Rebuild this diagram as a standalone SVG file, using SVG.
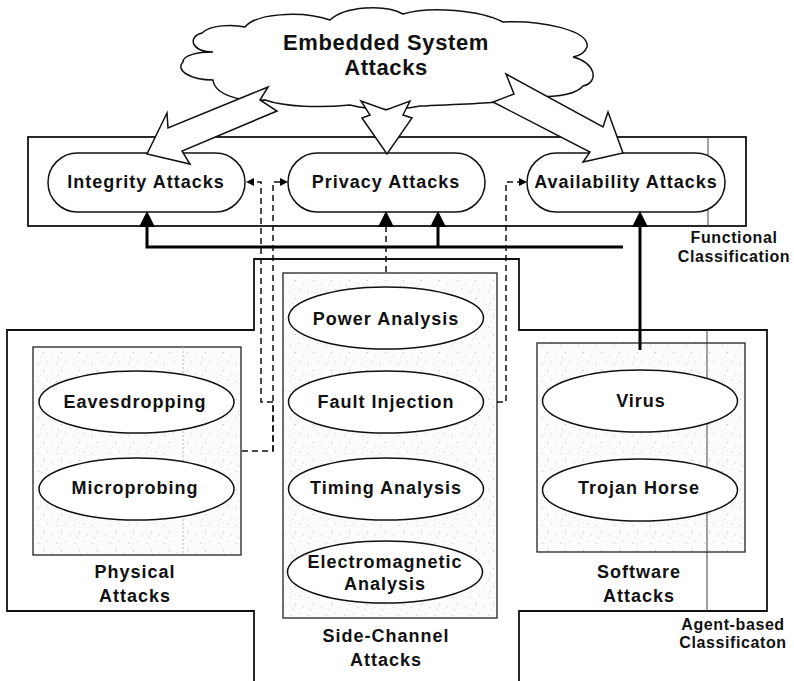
<svg xmlns="http://www.w3.org/2000/svg" width="794" height="681" viewBox="0 0 794 681">
  <defs>
    <style>
      .frame { fill: none; stroke: #111; stroke-width: 1.8; }
      .hair { fill: none; stroke: #444; stroke-width: 1; }
      .faint { fill: none; stroke: #bbb; stroke-width: 1; stroke-dasharray: 2 2; }
      .pill, .ell, .cloud, .hollow { fill: #fff; stroke: #111; stroke-width: 1.5; stroke-linejoin: miter; }
      .inner { fill: url(#stipple); stroke: #222; stroke-width: 1.3; }
      .bus { fill: none; stroke: #000; stroke-width: 3; }
      .dash { fill: none; stroke: #111; stroke-width: 1.5; stroke-dasharray: 6 4; }
      text { font-family: "Liberation Sans", Arial, sans-serif; font-weight: bold; font-size: 18px; letter-spacing: 1px; text-anchor: middle; fill: #111; }
      .title { font-size: 22px; letter-spacing: 0.6px; }
      .note { font-size: 16px; letter-spacing: 0.6px; }
    </style>
    <pattern id="stipple" width="18" height="18" patternUnits="userSpaceOnUse">
      <rect width="18" height="18" fill="#fcfcfc"/>
      <rect x="2" y="3" width="1" height="1" fill="#c4c4c4"/>
      <rect x="11" y="1" width="1" height="1" fill="#d0d0d0"/>
      <rect x="7" y="10" width="1" height="1" fill="#bcbcbc"/>
      <rect x="15" y="13" width="1" height="1" fill="#d4d4d4"/>
      <rect x="4" y="15" width="1" height="1" fill="#d8d8d8"/>
    </pattern>
    <!-- filled head for the thick bus and the power-analysis link -->
    <marker id="headBig" viewBox="0 0 16 16" refX="0" refY="8" markerWidth="16" markerHeight="16" markerUnits="userSpaceOnUse" orient="auto">
      <path d="M0,0 L16,8 L0,16 Z" fill="#000"/>
    </marker>
    <!-- small head for the side links -->
    <marker id="headSmall" viewBox="0 0 8 8" refX="0" refY="4" markerWidth="8" markerHeight="8" markerUnits="userSpaceOnUse" orient="auto">
      <path d="M0,0 L8,4 L0,8 Z" fill="#000"/>
    </marker>
  </defs>

  <rect width="794" height="681" fill="#fff"/>

  <!-- agent-based classification outline -->
  <g id="agent-based">
    <path class="frame" d="M254,681 V611 H7 V330 H254 V259 H519 V330 H767 V611 H519 V681"/>
    <line class="hair" x1="707" y1="330" x2="707" y2="611"/>
    <text class="note" x="733" y="630">Agent-based</text>
    <text class="note" x="733" y="648">Classificaton</text>
  </g>

  <!-- functional classification frame -->
  <g id="functional">
    <rect class="frame" x="28" y="137" width="718" height="89"/>
    <line class="hair" x1="708" y1="137" x2="708" y2="226"/>
    <text class="note" x="734" y="243">Functional</text>
    <text class="note" x="734" y="262">Classification</text>
  </g>

  <!-- root cloud -->
  <g id="embedded-system-attacks">
    <path class="cloud" d="M213,52 C190,52 188,36 202,33 C210,25 232,24 245,27 C255,14 300,10 330,20 C345,6 385,4 403,14 C430,6 480,10 503,22 C540,20 590,30 587,47 C585,53 578,56 573,57 C595,62 600,82 583,86 C575,96 550,97 535,97 C500,104 460,104 420,106 C395,111 370,110 350,105 C320,108 285,107 265,100 C240,102 215,95 213,80 C190,80 175,70 183,62 C183,55 198,52 213,52 Z"/>
    <text class="title" x="386" y="50">Embedded System</text>
    <text class="title" x="386" y="75">Attacks</text>
  </g>

  <!-- functional categories -->
  <g id="integrity-attacks">
    <rect class="pill" x="48" y="153" width="197" height="59" rx="29.5"/>
    <text x="146" y="188">Integrity Attacks</text>
  </g>
  <g id="privacy-attacks">
    <rect class="pill" x="288" y="153" width="197" height="59" rx="29.5"/>
    <text x="386" y="188">Privacy Attacks</text>
  </g>
  <g id="availability-attacks">
    <rect class="pill" x="527" y="153" width="198" height="59" rx="29.5"/>
    <text x="626" y="188">Availability Attacks</text>
  </g>

  <!-- agent-based categories -->
  <g id="physical-attacks">
    <rect class="inner" x="33" y="347" width="208" height="208"/>
    <line class="faint" x1="183" y1="347" x2="183" y2="555"/>
    <text x="135" y="578">Physical</text>
    <text x="135" y="602">Attacks</text>
  </g>
  <g id="side-channel-attacks">
    <rect class="inner" x="283" y="273" width="214" height="345"/>
    <text x="386" y="642">Side‑Channel</text>
    <text x="386" y="666">Attacks</text>
  </g>
  <g id="software-attacks">
    <rect class="inner" x="537" y="343" width="208" height="209"/>
    <line class="hair" x1="707" y1="343" x2="707" y2="552"/>
    <text x="639" y="578">Software</text>
    <text x="639" y="602">Attacks</text>
  </g>

  <g id="eavesdropping">
    <ellipse class="ell" cx="136.5" cy="402" rx="97.5" ry="31"/>
    <text x="135" y="408">Eavesdropping</text>
  </g>
  <g id="microprobing">
    <ellipse class="ell" cx="136.5" cy="489" rx="97.5" ry="31"/>
    <text x="135" y="494">Microprobing</text>
  </g>
  <g id="power-analysis">
    <ellipse class="ell" cx="386" cy="318" rx="97.5" ry="31"/>
    <text x="386" y="325">Power Analysis</text>
  </g>
  <g id="fault-injection">
    <ellipse class="ell" cx="386" cy="402" rx="97.5" ry="31"/>
    <text x="386" y="408">Fault Injection</text>
  </g>
  <g id="timing-analysis">
    <ellipse class="ell" cx="386" cy="489" rx="97.5" ry="31"/>
    <text x="386" y="494">Timing Analysis</text>
  </g>
  <g id="electromagnetic-analysis">
    <ellipse class="ell" cx="385" cy="572" rx="97.5" ry="31"/>
    <text x="385" y="568">Electromagnetic</text>
    <text x="385" y="590">Analysis</text>
  </g>
  <g id="virus">
    <ellipse class="ell" cx="640" cy="401" rx="97.5" ry="31"/>
    <text x="641" y="407">Virus</text>
  </g>
  <g id="trojan-horse">
    <ellipse class="ell" cx="640" cy="490" rx="97.5" ry="31"/>
    <text x="639" y="494">Trojan Horse</text>
  </g>

  <g id="connectors">
    <!-- hollow arrows from the root cloud -->
    <polygon class="hollow" points="268,87 168,128 167,113 147,154 190,164 182,151 277,111 260,100"/>
    <polygon class="hollow" points="361,101 386,110 410,101 403,115 412,118 387,154 362,118 370,115"/>
    <polygon class="hollow" points="506,74 603,127 608,112 623,153 583,162 590,152 493,102 514,94"/>

    <!-- solid bus into the functional categories -->
    <path class="bus" d="M623,247 H147 V227" marker-end="url(#headBig)"/>
    <path class="bus" d="M438,247 V227" marker-end="url(#headBig)"/>
    <path class="bus" d="M640,350 V227" marker-end="url(#headBig)"/>

    <!-- dashed links -->
    <path class="dash" d="M386,272 V227" marker-end="url(#headBig)"/>
    <path class="dash" d="M242,451 H273 V402 H261 V182 H254" marker-end="url(#headSmall)"/>
    <path class="dash" d="M273,451 V182 H280" marker-end="url(#headSmall)"/>
    <path class="dash" d="M497,402 H506 V182 H519" marker-end="url(#headSmall)"/>
  </g>
</svg>
